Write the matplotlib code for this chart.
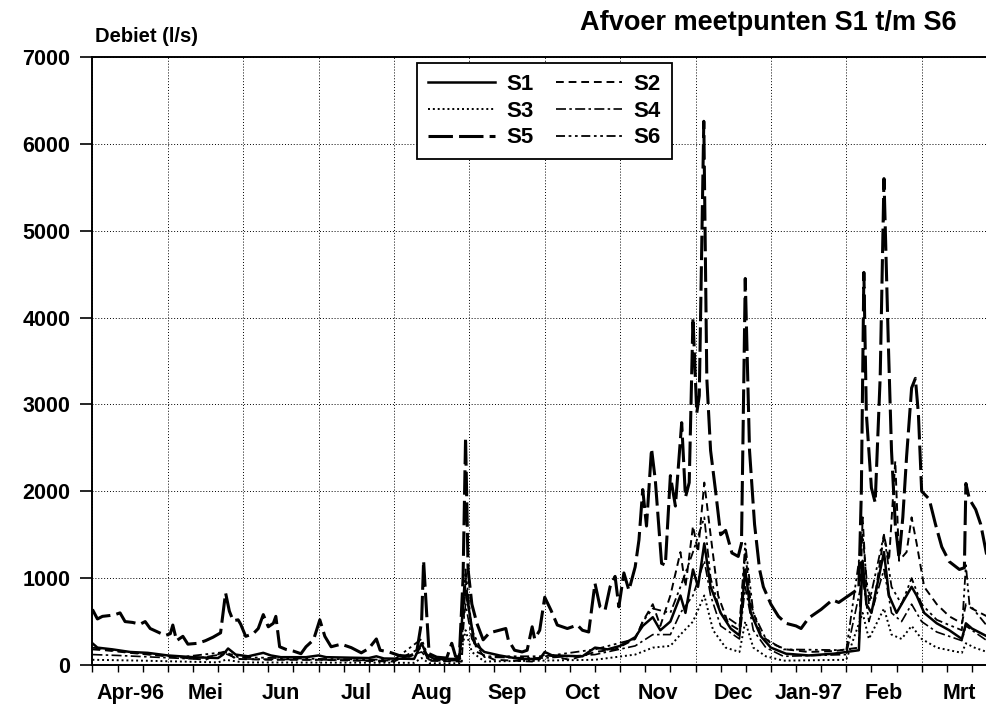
import matplotlib
matplotlib.use("Agg")
import matplotlib.pyplot as plt
from matplotlib.ticker import MultipleLocator

plt.rcParams['font.family'] = ['Liberation Sans', 'DejaVu Sans']
plt.rcParams['font.weight'] = 'bold'

# Month labels (one per 30-day block, starting 1 April 1996)
months = ["Apr-96", "Mei", "Jun", "Jul", "Aug", "Sep", "Oct", "Nov",
          "Dec", "Jan-97", "Feb", "Mrt"]

# Discharge (l/s) per measuring point: day number since 1 April 1996 and value
s5_days = [0, 2, 4, 7, 9, 11, 13, 16, 19, 21, 23, 26, 29, 31, 32, 33.5, 36, 38, 42, 45,
           48, 51, 53, 54.5, 56, 58, 59, 61, 64, 66, 68, 70, 72, 73, 74.5, 77, 80, 83, 85,
           88, 90.5, 92.5, 95, 99, 103, 107, 110, 113, 114.5, 118, 122, 126, 129, 131,
           131.8, 133, 134, 137, 141, 143, 144.5, 146, 147.5, 148.5, 149.5, 151, 153,
           155.5, 158, 162, 164.5, 165.5, 168, 171, 173, 175, 176, 178, 180, 182.5, 185,
           189, 193, 195, 197.5, 200, 202, 204, 206, 208, 209.5, 211.5, 213.5, 216,
           217.5, 219, 220.5, 222.5, 224, 226.5, 228, 230, 232, 234.5, 236, 237.5, 239,
           240.5, 241.5, 243.3, 244.5, 246, 248, 250, 252, 254.5, 257, 258.3, 259.8,
           261.5, 263.5, 265.5, 267, 270, 273, 276, 280, 282, 285, 290, 294.5, 297, 301,
           305, 306, 307, 308, 310, 311.5, 313.5, 315, 316.7, 318, 319.5, 321, 322.5, 324,
           326, 327.5, 328.7, 330, 333, 335.5, 338, 341, 345, 347, 347.6, 349, 351.5,
           353.5, 356]
s5_vals = [640, 530, 560, 570, 580, 600, 500, 490, 470, 500, 420, 380, 340, 360, 460, 280,
           330, 240, 250, 280, 320, 370, 830, 620, 510, 520, 470, 330, 360, 420, 580, 440,
           480, 560, 210, 180, 160, 130, 210, 290, 520, 330, 210, 240, 200, 140, 190, 300,
           170, 150, 110, 100, 140, 500, 1200, 600, 130, 90, 80, 250, 100, 90, 1000, 2620,
           1100, 700, 480, 290, 370, 400, 420, 290, 170, 150, 170, 440, 300, 400, 780, 630,
           460, 420, 460, 400, 380, 940, 670, 630, 900, 1020, 670, 1060, 860, 1130, 1440,
           2020, 1600, 2490, 2130, 1170, 1150, 2180, 1830, 2790, 1930, 2100, 4000, 2900,
           3100, 6260, 3300, 2470, 2000, 1500, 1550, 1290, 1250, 1400, 4450, 2470, 1620,
           1100, 900, 700, 560, 480, 450, 420, 540, 640, 750, 720, 800, 880, 2000, 4520,
           2890, 2040, 1870, 3320, 5600, 3740, 2470, 1620, 1230, 1700, 2400, 3190, 3300,
           2890, 2000, 1910, 1620, 1360, 1190, 1100, 1120, 2090, 1910, 1790, 1620, 1250]

s1_days = [0, 2, 8, 15, 22, 30, 40, 50, 52, 54, 57, 62, 68, 71, 75, 85, 90, 93, 110, 113,
           116, 128, 131, 133, 136, 146, 148, 149.5, 152, 156, 162, 170, 178, 180, 183, 195,
           200, 205, 210, 216, 219, 223, 226, 230, 234, 236, 239, 241, 243.5, 246, 250,
           254, 257.5, 259.8, 262, 266, 270, 276, 285, 295, 305, 306.5, 308, 310, 315, 317,
           320, 323, 326, 328, 331, 336, 341, 346, 347.6, 350, 356]
s1_vals = [250, 200, 180, 150, 140, 110, 90, 80, 120, 190, 120, 100, 140, 110, 90, 90, 110,
           90, 80, 100, 75, 70, 250, 120, 70, 70, 900, 700, 250, 150, 110, 70, 70, 150, 110,
           100, 200, 180, 220, 320, 450, 550, 400, 500, 800, 600, 1100, 900, 1400, 900, 600,
           420, 340, 1100, 600, 330, 200, 130, 110, 130, 170, 1200, 700, 600, 1300, 800, 600,
           750, 900, 800, 600, 480, 400, 300, 480, 420, 330]

s2_days = [0, 5, 15, 30, 45, 53, 57, 70, 90, 120, 131, 134, 147, 148.5, 150, 153, 160, 175,
           180, 190, 200, 208, 216, 219, 223, 226, 230, 234, 236, 239, 241, 243.5, 246, 249,
           253, 257.5, 259.8, 262, 266, 270, 276, 285, 295, 305, 306.5, 308, 311, 315, 317,
           319.5, 321, 324, 326, 328, 331, 336, 341, 346, 347.6, 350, 356]
s2_vals = [180, 170, 140, 100, 60, 160, 70, 60, 60, 40, 200, 50, 40, 1000, 600, 150, 60, 40,
           120, 60, 150, 180, 300, 500, 700, 450, 800, 1300, 900, 1600, 1300, 2100, 1500,
           800, 480, 400, 1300, 700, 350, 250, 180, 150, 160, 200, 1700, 900, 700, 1500,
           1200, 2350, 1200, 1300, 1700, 1400, 900, 700, 560, 480, 700, 650, 560]

s3_days = [0, 20, 50, 53, 60, 128, 131, 134, 146, 148.5, 151, 156, 200, 216, 223, 230, 234,
           239, 243.5, 247, 252, 257.5, 259.8, 263, 268, 275, 300, 306.5, 309, 315, 318,
           322, 326, 330, 336, 346, 347.6, 351, 356]
s3_vals = [60, 50, 30, 60, 30, 25, 80, 20, 20, 400, 150, 40, 60, 120, 200, 220, 350, 500,
           800, 400, 200, 150, 500, 200, 100, 50, 60, 600, 300, 650, 350, 300, 450, 300, 200,
           140, 250, 200, 150]

s4_days = [0, 10, 25, 40, 53, 58, 90, 120, 131, 134, 146, 148.5, 151, 156, 180, 200, 216,
           223, 230, 234, 239, 243.5, 246, 250, 257.5, 259.8, 263, 268, 275, 300, 306.5, 309,
           315, 318, 322, 326, 330, 336, 346, 347.6, 351, 356]
s4_vals = [120, 110, 90, 70, 130, 70, 60, 50, 150, 50, 50, 700, 300, 90, 80, 120, 220, 350,
           350, 600, 800, 1200, 800, 450, 300, 900, 400, 200, 100, 120, 1000, 500, 1100, 600,
           500, 700, 500, 380, 280, 450, 380, 280]

s6_days = [0, 8, 20, 35, 53, 58, 90, 120, 131, 134, 146, 148.5, 151, 156, 180, 200, 216,
           219, 223, 230, 234, 239, 243.5, 246, 250, 257.5, 259.8, 263, 268, 275, 300, 306.5,
           309, 315, 318, 322, 326, 330, 336, 346, 347.6, 349, 356]
s6_vals = [200, 170, 130, 90, 150, 90, 70, 60, 300, 60, 60, 1100, 400, 100, 100, 180, 300,
           500, 650, 600, 900, 1300, 1700, 1000, 600, 450, 1400, 600, 300, 180, 170, 1500,
           700, 1500, 900, 700, 1000, 700, 520, 400, 1150, 700, 450]

series = [
    ("S1", s1_days, s1_vals, dict(linestyle="-", linewidth=1.8)),
    ("S2", s2_days, s2_vals, dict(linestyle=(0, (4, 2.5)), linewidth=1.4)),
    ("S3", s3_days, s3_vals, dict(linestyle=(0, (1, 1.5)), linewidth=1.4)),
    ("S4", s4_days, s4_vals, dict(linestyle=(0, (6, 2, 1.5, 2)), linewidth=1.2)),
    ("S5", s5_days, s5_vals, dict(linestyle=(0, (8, 2)), linewidth=2.2)),
    ("S6", s6_days, s6_vals, dict(linestyle=(0, (5, 2, 1.5, 2, 1.5, 2)), linewidth=1.3)),
]

fig = plt.figure(figsize=(9.87, 7.04), dpi=100)
ax = fig.add_axes([92.4 / 987, 39 / 704, 1 - 92.4 / 987, 608 / 704])

handles = {}
for name, d, v, style in series:
    (ln,) = ax.plot(d, v, color="black", label=name, **style)
    handles[name] = ln

ax.set_xlim(0, 356)
ax.set_ylim(0, 7000)

# y axis
ax.set_yticks(range(0, 7001, 1000))
ax.tick_params(axis="y", direction="out", length=9, width=1.2, pad=7, labelsize=15.5)

# x axis: month blocks of 30 days with small ticks every 10 days
ax.set_xticks(range(0, 357, 30))
ax.xaxis.set_minor_locator(MultipleLocator(10))
ax.tick_params(axis="x", which="both", direction="out", length=5, width=1.0,
               labelbottom=False)

sec = ax.secondary_xaxis("bottom")
sec.set_xticks([15 + 30 * i for i in range(len(months))], labels=months)
sec.tick_params(length=0, pad=13, labelsize=15.5)
sec.spines["bottom"].set_visible(False)

ax.grid(True, which="major", color="black", linestyle=(0, (1, 2)), linewidth=0.7)
ax.spines["right"].set_visible(False)
for s in ("left", "top", "bottom"):
    ax.spines[s].set_linewidth(1.4)

order = ["S1", "S3", "S5", "S2", "S4", "S6"]
leg = ax.legend([handles[k] for k in order], order, ncol=2, loc="upper left",
                bbox_to_anchor=(0.363, 0.99), borderaxespad=0,
                prop={"size": 16, "weight": "bold"},
                handlelength=3.0, handletextpad=0.5, columnspacing=1.0,
                labelspacing=0.25, fancybox=False, framealpha=1, edgecolor="black",
                borderpad=0.5)
leg.get_frame().set_linewidth(1.3)

fig.text(95 / 987, 1 - 42 / 704, "Debiet (l/s)", fontsize=14.5, va="baseline", ha="left")
fig.text(957 / 987, 1 - 30 / 704, "Afvoer meetpunten S1 t/m S6", fontsize=19.5,
         va="baseline", ha="right")

fig.savefig("out.png", dpi=100)
